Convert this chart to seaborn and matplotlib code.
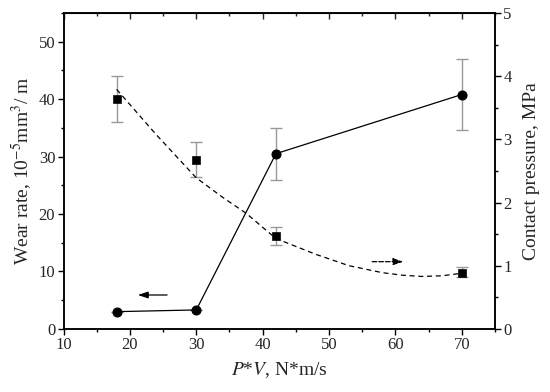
import numpy as np
import pandas as pd
import matplotlib
matplotlib.use("Agg")
import matplotlib.pyplot as plt
import seaborn as sns
from matplotlib.ticker import MultipleLocator

# Measured points
pv = [18, 30, 42, 70]
wear_rate = [3.0, 3.3, 30.5, 40.8]
wear_lo = [3.0, 3.3, 26.0, 34.7]
wear_hi = [3.0, 3.3, 35.0, 47.0]

pressure = [3.64, 2.68, 1.47, 0.88]
pressure_lo = [3.27, 2.41, 1.32, 0.82]
pressure_hi = [4.00, 2.95, 1.62, 0.98]

# dashed trend curve
trend_pv = [18, 24, 30, 34, 37.5, 42, 48, 53, 58, 61, 64, 67, 70]
trend_p = [3.79, 3.07, 2.39, 2.08, 1.83, 1.43, 1.18, 1.00, 0.89, 0.85, 0.83, 0.84, 0.88]

sns.set_style("ticks")
plt.rcParams['font.family'] = ['Liberation Serif', 'DejaVu Serif']
plt.rcParams['mathtext.fontset'] = 'stix'

df_w = pd.DataFrame({'pv': pv, 'wear': wear_rate})
df_p = pd.DataFrame({'pv': pv, 'p': pressure})
df_t = pd.DataFrame({'pv': trend_pv, 'p': trend_p})

fig, ax = plt.subplots(figsize=(5.5, 3.92), dpi=100)
fig.subplots_adjust(left=0.1155, right=0.9, top=0.967, bottom=0.161)
ax2 = ax.twinx()

# wear rate (left axis)
err_w = [np.array(wear_rate) - np.array(wear_lo), np.array(wear_hi) - np.array(wear_rate)]
ax.errorbar(pv, wear_rate, yerr=err_w, fmt='none', ecolor='#999999', elinewidth=1,
            capsize=4, capthick=1, zorder=1)
sns.lineplot(data=df_w, x='pv', y='wear', ax=ax, color='black', lw=0.9,
             marker='o', markersize=6.5, markeredgecolor='black', zorder=3)

# contact pressure (right axis)
err_p = [np.array(pressure) - np.array(pressure_lo), np.array(pressure_hi) - np.array(pressure)]
ax2.errorbar(pv, pressure, yerr=err_p, fmt='none', ecolor='#999999', elinewidth=1,
             capsize=4, capthick=1, zorder=1)
sns.lineplot(data=df_t, x='pv', y='p', ax=ax2, color='black', lw=0.9,
             linestyle=(0, (4, 3)), zorder=2)
sns.scatterplot(data=df_p, x='pv', y='p', ax=ax2, color='black', marker='s',
                s=36, edgecolor='black', zorder=3)

# arrows showing which axis each series belongs to
ax.annotate('', xy=(21.2, 5.9), xytext=(25.6, 5.9),
            arrowprops=dict(arrowstyle='-|>,head_length=0.6,head_width=0.2', color='black',
                            lw=0.9, mutation_scale=10, shrinkA=0, shrinkB=0))
ax.annotate('', xy=(61.2, 11.7), xytext=(56.5, 11.7),
            arrowprops=dict(arrowstyle='-|>,head_length=0.6,head_width=0.2', color='black',
                            lw=0.9, ls='--', mutation_scale=10, shrinkA=0, shrinkB=0))

ax.set_xlim(10, 75)
ax.set_ylim(0, 55)
ax2.set_ylim(0, 5)
ax.xaxis.set_major_locator(MultipleLocator(10))
ax.xaxis.set_minor_locator(MultipleLocator(5))
ax.yaxis.set_major_locator(MultipleLocator(10))
ax.yaxis.set_minor_locator(MultipleLocator(5))
ax2.yaxis.set_major_locator(MultipleLocator(1))
ax2.yaxis.set_minor_locator(MultipleLocator(0.5))

ax.set_xlabel('$P$*$V$, N*m/s', fontsize=14, labelpad=5)
ax.set_ylabel('Wear rate, 10$^{-5}$mm$^{3}$/ m', fontsize=14, labelpad=3)
ax2.set_ylabel('Contact pressure, MPa', fontsize=14, labelpad=8)

for a in (ax, ax2):
    for s in a.spines.values():
        s.set_visible(True)
        s.set_color('black')
        s.set_linewidth(1.1)
    a.tick_params(which='both', labelsize=12, color='black', width=1.0, pad=2)
    a.tick_params(which='major', length=4)
    a.tick_params(which='minor', length=2.5)

# inward ticks along the top edge, no labels
secx = ax.secondary_xaxis('top')
secx.xaxis.set_major_locator(MultipleLocator(10))
secx.xaxis.set_minor_locator(MultipleLocator(5))
secx.tick_params(which='both', direction='in', labeltop=False, width=1.0)
secx.tick_params(which='major', length=4)
secx.tick_params(which='minor', length=2.5)
ax.tick_params(axis='x', which='both', top=False)

plt.savefig('out.png', dpi=100)
